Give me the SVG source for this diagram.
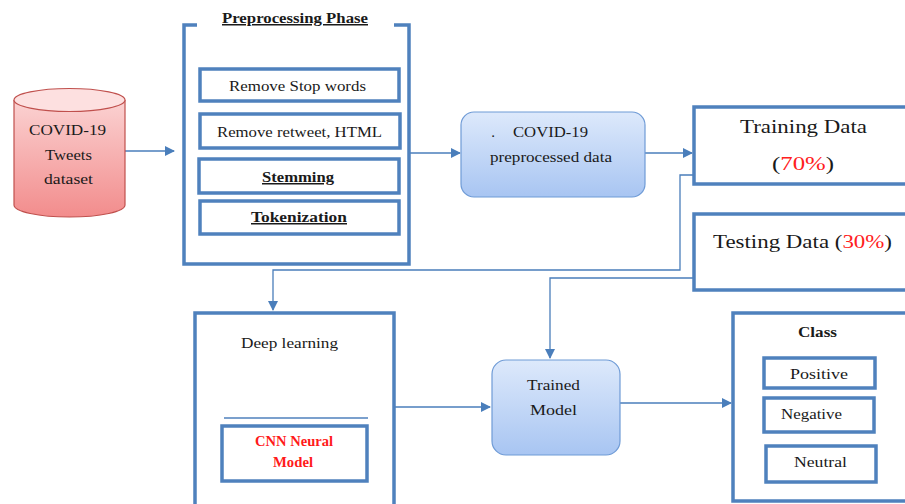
<svg xmlns="http://www.w3.org/2000/svg" width="905" height="504" viewBox="0 0 905 504">
<defs>
<linearGradient id="cyl" x1="0" y1="0" x2="0" y2="1">
<stop offset="0" stop-color="#fbd2d2"/><stop offset="1" stop-color="#f28c8c"/>
</linearGradient>
<linearGradient id="blu" x1="0" y1="0" x2="0" y2="1">
<stop offset="0" stop-color="#dde9fb"/><stop offset="1" stop-color="#a8c5f2"/>
</linearGradient>
<marker id="ah" viewBox="0 0 10 10" refX="9" refY="5" markerWidth="10" markerHeight="10" markerUnits="userSpaceOnUse" orient="auto">
<path d="M0,0 L10,5 L0,10 Z" fill="#4a7ebb"/>
</marker>
</defs>
<style>
.box{fill:#fff;stroke:#4f81bd;stroke-width:3.5}
.ob{fill:none;stroke:#4f81bd;stroke-width:3.5}
.con{fill:none;stroke:#4a7ebb;stroke-width:1.3}
text{font-family:"Liberation Serif","Times New Roman",serif;fill:#1a1a1a;text-anchor:middle}
.s{font-size:15px}
.b{font-weight:bold;text-decoration:underline}
.red{fill:#ff2020}
.cnn{font-weight:bold;fill:#ff1a1a}
</style>
<rect width="905" height="504" fill="#fff"/>

<g id="connectors">
<path class="con" d="M125,151 H174" marker-end="url(#ah)"/>
<path class="con" d="M410,153 H460" marker-end="url(#ah)"/>
<path class="con" d="M645,153 H692" marker-end="url(#ah)"/>
<path class="con" d="M693,175 H680 V270 H273 V310" marker-end="url(#ah)"/>
<path class="con" d="M693,278 H550 V358" marker-end="url(#ah)"/>
<path class="con" d="M395,407 H490" marker-end="url(#ah)"/>
<path class="con" d="M620,403 H731" marker-end="url(#ah)"/>
</g>

<g id="dataset">
<path d="M14,100 V205 A55.5,12 0 0 0 125,205 V100" fill="url(#cyl)" stroke="#c0504d" stroke-width="1.2"/>
<ellipse cx="69.5" cy="100" rx="55.5" ry="11.5" fill="#fde0e0" stroke="#c0504d" stroke-width="1.2"/>
<text x="67.5" y="135" class="s" textLength="77" lengthAdjust="spacingAndGlyphs">COVID-19</text>
<text x="68.5" y="160" class="s" textLength="47" lengthAdjust="spacingAndGlyphs">Tweets</text>
<text x="68.5" y="184" class="s" textLength="49" lengthAdjust="spacingAndGlyphs">dataset</text>
</g>

<g id="preprocessing">
<path class="ob" d="M197,25 H184 V264 H409 V25 H394"/>
<text x="295" y="23" class="s b" textLength="146" lengthAdjust="spacingAndGlyphs">Preprocessing Phase</text>
<rect class="box" x="200" y="69" width="199" height="32"/>
<text x="297.5" y="91" class="s" textLength="137" lengthAdjust="spacingAndGlyphs">Remove Stop words</text>
<rect class="box" x="200" y="114" width="200" height="34"/>
<text x="299.5" y="137" class="s" textLength="165" lengthAdjust="spacingAndGlyphs">Remove retweet, HTML</text>
<rect class="box" x="199" y="159" width="200" height="34"/>
<text x="298" y="182" class="s b" textLength="72" lengthAdjust="spacingAndGlyphs">Stemming</text>
<rect class="box" x="200" y="201" width="199" height="33"/>
<text x="299" y="222" class="s b" textLength="96" lengthAdjust="spacingAndGlyphs">Tokenization</text>
</g>

<g id="preprocessed">
<rect x="461" y="112" width="184" height="85" rx="13" fill="url(#blu)" stroke="#6f9bd6" stroke-width="1.2"/>
<text x="493" y="137" class="s">.</text>
<text x="550.5" y="137" class="s" textLength="75" lengthAdjust="spacingAndGlyphs">COVID-19</text>
<text x="551" y="162" class="s" textLength="122" lengthAdjust="spacingAndGlyphs">preprocessed data</text>
</g>

<g id="training">
<rect class="box" x="694" y="107" width="220" height="77"/>
<text x="803.5" y="133" font-size="19" textLength="127" lengthAdjust="spacingAndGlyphs">Training Data</text>
<text x="803" y="170" font-size="19" textLength="62" lengthAdjust="spacingAndGlyphs"><tspan>(</tspan><tspan class="red">70%</tspan><tspan>)</tspan></text>
</g>

<g id="testing">
<rect class="box" x="694" y="214" width="220" height="76"/>
<text x="802.5" y="248" font-size="19" textLength="179" lengthAdjust="spacingAndGlyphs"><tspan>Testing Data (</tspan><tspan class="red">30%</tspan><tspan>)</tspan></text>
</g>

<g id="deeplearning">
<path class="ob" d="M195,510 V313 H394 V510"/>
<text x="289.5" y="348" class="s" textLength="97" lengthAdjust="spacingAndGlyphs">Deep learning</text>
<line x1="224" y1="418" x2="368" y2="418" stroke="#4f81bd" stroke-width="1.5"/>
<rect class="box" x="222" y="426" width="145" height="55"/>
<text x="294" y="446" class="s cnn" textLength="78" lengthAdjust="spacingAndGlyphs">CNN Neural</text>
<text x="293" y="467" class="s cnn" textLength="40" lengthAdjust="spacingAndGlyphs">Model</text>
</g>

<g id="trained">
<rect x="492" y="360" width="128" height="95" rx="14" fill="url(#blu)" stroke="#6f9bd6" stroke-width="1.2"/>
<text x="553.5" y="390" class="s" textLength="53" lengthAdjust="spacingAndGlyphs">Trained</text>
<text x="553.5" y="415" class="s" textLength="47" lengthAdjust="spacingAndGlyphs">Model</text>
</g>

<g id="class">
<path class="ob" d="M914,313 H733 V501 H914"/>
<text x="817.5" y="337" class="s" font-weight="bold" textLength="39" lengthAdjust="spacingAndGlyphs">Class</text>
<rect class="box" x="764" y="358" width="111" height="30"/>
<text x="819" y="379" class="s" textLength="58" lengthAdjust="spacingAndGlyphs">Positive</text>
<rect class="box" x="764" y="398" width="110" height="34"/>
<text x="811.5" y="419" class="s" textLength="61" lengthAdjust="spacingAndGlyphs">Negative</text>
<rect class="box" x="766" y="446" width="110" height="36"/>
<text x="820.5" y="467" class="s" textLength="53" lengthAdjust="spacingAndGlyphs">Neutral</text>
</g>
</svg>
